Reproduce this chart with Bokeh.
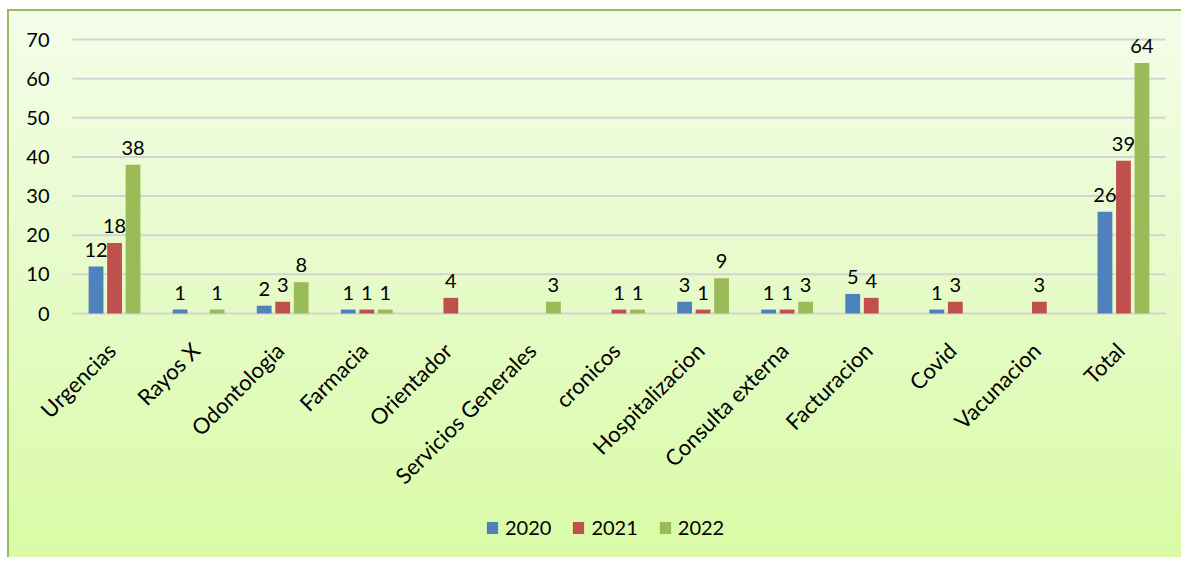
import math
from bokeh.plotting import figure
from bokeh.models import (ColumnDataSource, Range1d, Legend, LegendItem)
from bokeh.transform import dodge
from bokeh.core.properties import value
from bokeh.embed import file_html
from bokeh.resources import INLINE

categories = ["Urgencias", "Rayos X", "Odontologia", "Farmacia", "Orientador",
              "Servicios Generales", "cronicos", "Hospitalizacion",
              "Consulta externa", "Facturacion", "Covid", "Vacunacion", "Total"]
years = ["2020", "2021", "2022"]
v2020 = [12, 1, 2, 1, 0, 0, 0, 3, 1, 5, 1, 0, 26]
v2021 = [18, 0, 3, 1, 4, 0, 1, 1, 1, 4, 3, 3, 39]
v2022 = [38, 1, 8, 1, 0, 3, 1, 9, 3, 0, 0, 0, 64]
y_ticks = [0, 10, 20, 30, 40, 50, 60, 70]

colors = ["#4f81bd", "#c0504d", "#9bbb59"]
offsets = [-0.22, 0.0, 0.22]
FONT = "Lato"
n = len(categories)
pos = [i + 0.5 for i in range(n)]          # category slot centres

# the frame covers the whole canvas so the rotated labels, the tick labels
# and the legend are all drawn inside it
W, H = 1174, 548
plot_left, plot_right = 63, 1156            # pixels where the category band lies
x_start = -plot_left * n / (plot_right - plot_left)
x_end = n + (W - plot_right) * n / (plot_right - plot_left)

p = figure(width=W, height=H, x_range=Range1d(x_start, x_end),
           y_range=Range1d(-62.85, 73.07), output_backend="svg", toolbar_location=None,
           x_axis_location=None, y_axis_location=None,
           min_border_left=0, min_border_right=0, min_border_top=16,
           min_border_bottom=0)
p.background_fill_color = None
p.border_fill_color = None
p.outline_line_color = None
p.xgrid.grid_line_color = None
p.ygrid.grid_line_color = None
p.styles = {"background": "linear-gradient(to bottom, #f4fde9 0%, #e6fbc8 50%, #d9fba6 100%)",
            "border-top": "2px solid #9bbb59", "border-left": "2px solid #9bbb59",
            "margin-left": "7px", "margin-top": "9px"}

# horizontal gridlines and value-axis labels
gsrc = ColumnDataSource(dict(x0=[0] * len(y_ticks), x1=[n] * len(y_ticks), y=y_ticks,
                             txt=[str(t) for t in y_ticks]))
p.segment(x0="x0", y0="y", x1="x1", y1="y", source=gsrc,
          line_color="#d4d4d4", line_width=2)
p.text(x="x0", y="y", text="txt", source=gsrc, text_align="right",
       text_baseline="middle", x_offset=-23,
       text_font=value(FONT), text_font_size="20px", text_color="#000000")

series = [v2020, v2021, v2022]
renderers = []
for yr, vals, col, off in zip(years, series, colors, offsets):
    src = ColumnDataSource(dict(x=pos, val=vals))
    r = p.vbar(x=dodge("x", off), top="val", width=0.176,
               source=src, fill_color=col, line_color=None)
    renderers.append(r)
    xs_nz = [x for x, v in zip(pos, vals) if v > 0]
    vals_nz = [v for v in vals if v > 0]
    lsrc = ColumnDataSource(dict(x=xs_nz, val=vals_nz, txt=[str(v) for v in vals_nz]))
    p.text(x=dodge("x", off), y="val", text="txt", source=lsrc,
           text_align="center", text_baseline="alphabetic", y_offset=-17,
           text_font=value(FONT), text_font_size="20px", text_color="#000000")

# rotated category labels
csrc = ColumnDataSource(dict(x=pos, y=[0] * n, txt=categories))
p.text(x="x", y="y", text="txt", source=csrc, angle=math.pi / 4,
       text_align="right", text_baseline="middle", x_offset=-3, y_offset=33,
       text_font=value(FONT), text_font_size="22px", text_color="#000000")

legend = Legend(items=[LegendItem(label=y, renderers=[r]) for y, r in zip(years, renderers)],
                orientation="horizontal", location=(476, 20),
                glyph_width=14, glyph_height=15, label_standoff=6, spacing=20,
                padding=0, margin=0, border_line_color=None,
                background_fill_color=None, background_fill_alpha=0,
                label_text_font=FONT, label_text_font_size="20px",
                label_text_color="#000000")
p.add_layout(legend)

open("out.html", "w").write(file_html(p, INLINE))
